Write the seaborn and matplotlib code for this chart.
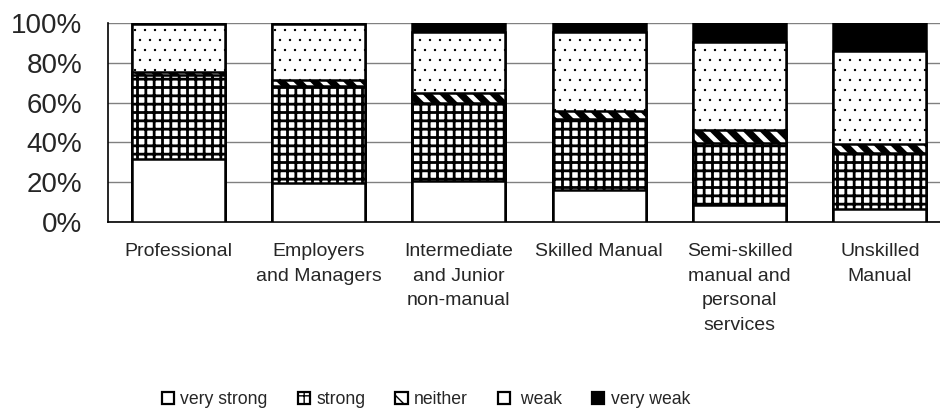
import matplotlib
matplotlib.use("Agg")
import matplotlib.pyplot as plt
import matplotlib.hatch as mhatch
import seaborn as sns
import pandas as pd
import numpy as np
from matplotlib.patches import Patch

categories = ["Professional", "Employers\nand Managers", "Intermediate\nand Junior\nnon-manual",
              "Skilled Manual", "Semi-skilled\nmanual and\npersonal\nservices", "Unskilled\nManual"]
very_strong = [31.5, 19.4, 20.8, 16.1, 8.5, 6.4]
strong = [42.4, 48.9, 38.8, 35.5, 31.0, 28.4]
neither = [1.5, 3.0, 5.1, 4.3, 6.7, 4.2]
weak = [24.1, 28.2, 30.9, 39.7, 44.4, 47.1]
very_weak = [0.5, 0.5, 4.4, 4.4, 9.4, 13.9]
series_names = ["very strong", "strong", "neither", "weak", "very weak"]
legend_labels = ["very strong", "strong", "neither", " weak", "very weak"]
y_ticks = [0, 20, 40, 60, 80, 100]
y_tick_labels = ["0%", "20%", "40%", "60%", "80%", "100%"]


# sparser, smaller dots for the '.' hatch (Excel-like dotted fill)
def _dots_init(self, hatch, density):
    self.num_rows = hatch.count('.') * 10
    mhatch.Circles.__init__(self, hatch, density)


mhatch.SmallFilledCircles.__init__ = _dots_init
mhatch.SmallFilledCircles.size = 0.06

sns.set_theme(style="white")
plt.rcParams["font.family"] = ["Liberation Sans", "DejaVu Sans"]

df = pd.DataFrame({"category": categories, "very strong": very_strong, "strong": strong,
                   "neither": neither, "weak": weak, "very weak": very_weak})
cum = df[series_names].cumsum(axis=1)

styles = {
    "very strong": dict(fc="white", hatch="", hlw=1.0),
    "strong": dict(fc="white", hatch="++", hlw=2.0),
    "neither": dict(fc="white", hatch="\\\\", hlw=5.0),
    "weak": dict(fc="white", hatch=".", hlw=0.8),
    "very weak": dict(fc="black", hatch="", hlw=1.0),
}

fig = plt.figure(figsize=(9.4, 4.12), dpi=100)
ax = fig.add_axes([108 / 940, (412 - 222) / 412, 842 / 940, 199 / 412])

for name in reversed(series_names):
    st = styles[name]
    plt.rcParams["hatch.linewidth"] = st["hlw"]
    plt.rcParams["hatch.color"] = "black"
    sns.barplot(x=df["category"], y=cum[name], order=categories, color=st["fc"],
                width=0.665, ax=ax, saturation=1, edgecolor="black", linewidth=1.8,
                hatch=st["hatch"] if st["hatch"] else None, zorder=3)

ax.set_xlim(-0.5, 5.5)
ax.set_ylim(0, 100)
ax.set_yticks(y_ticks)
ax.set_yticklabels(y_tick_labels, fontsize=20)
ax.set_xticks(range(len(categories)))
ax.set_xticklabels(categories, fontsize=14, linespacing=1.6, va="top")
ax.set_xticks(np.arange(0.5, 5.6, 1.0), minor=True)
ax.tick_params(axis="x", which="major", length=0, pad=15)
ax.tick_params(axis="x", which="minor", length=5, width=1, color="black", direction="out")
ax.tick_params(axis="y", length=5, width=1, color="black", direction="out", pad=13.5)
ax.set_xlabel("")
ax.set_ylabel("")
ax.yaxis.grid(True, color="#808080", linewidth=1.0, zorder=0)
ax.set_axisbelow(True)
for s in ["top", "right"]:
    ax.spines[s].set_visible(False)
for s in ["left", "bottom"]:
    ax.spines[s].set_color("black")
    ax.spines[s].set_linewidth(1.2)

handles = []
for name, lab in zip(series_names, legend_labels):
    st = styles[name]
    plt.rcParams["hatch.linewidth"] = st["hlw"]
    handles.append(Patch(facecolor=st["fc"], edgecolor="black",
                         hatch=st["hatch"] if st["hatch"] and name != "weak" else None,
                         linewidth=1.6, label=lab))
fig.legend(handles=handles, loc="center", bbox_to_anchor=(0.453, 0.03), ncol=5, frameon=False,
           fontsize=12.7, handlelength=0.7, handleheight=0.7, handletextpad=0.35, columnspacing=1.7,
           borderpad=0)

fig.savefig("out.png", dpi=100)
